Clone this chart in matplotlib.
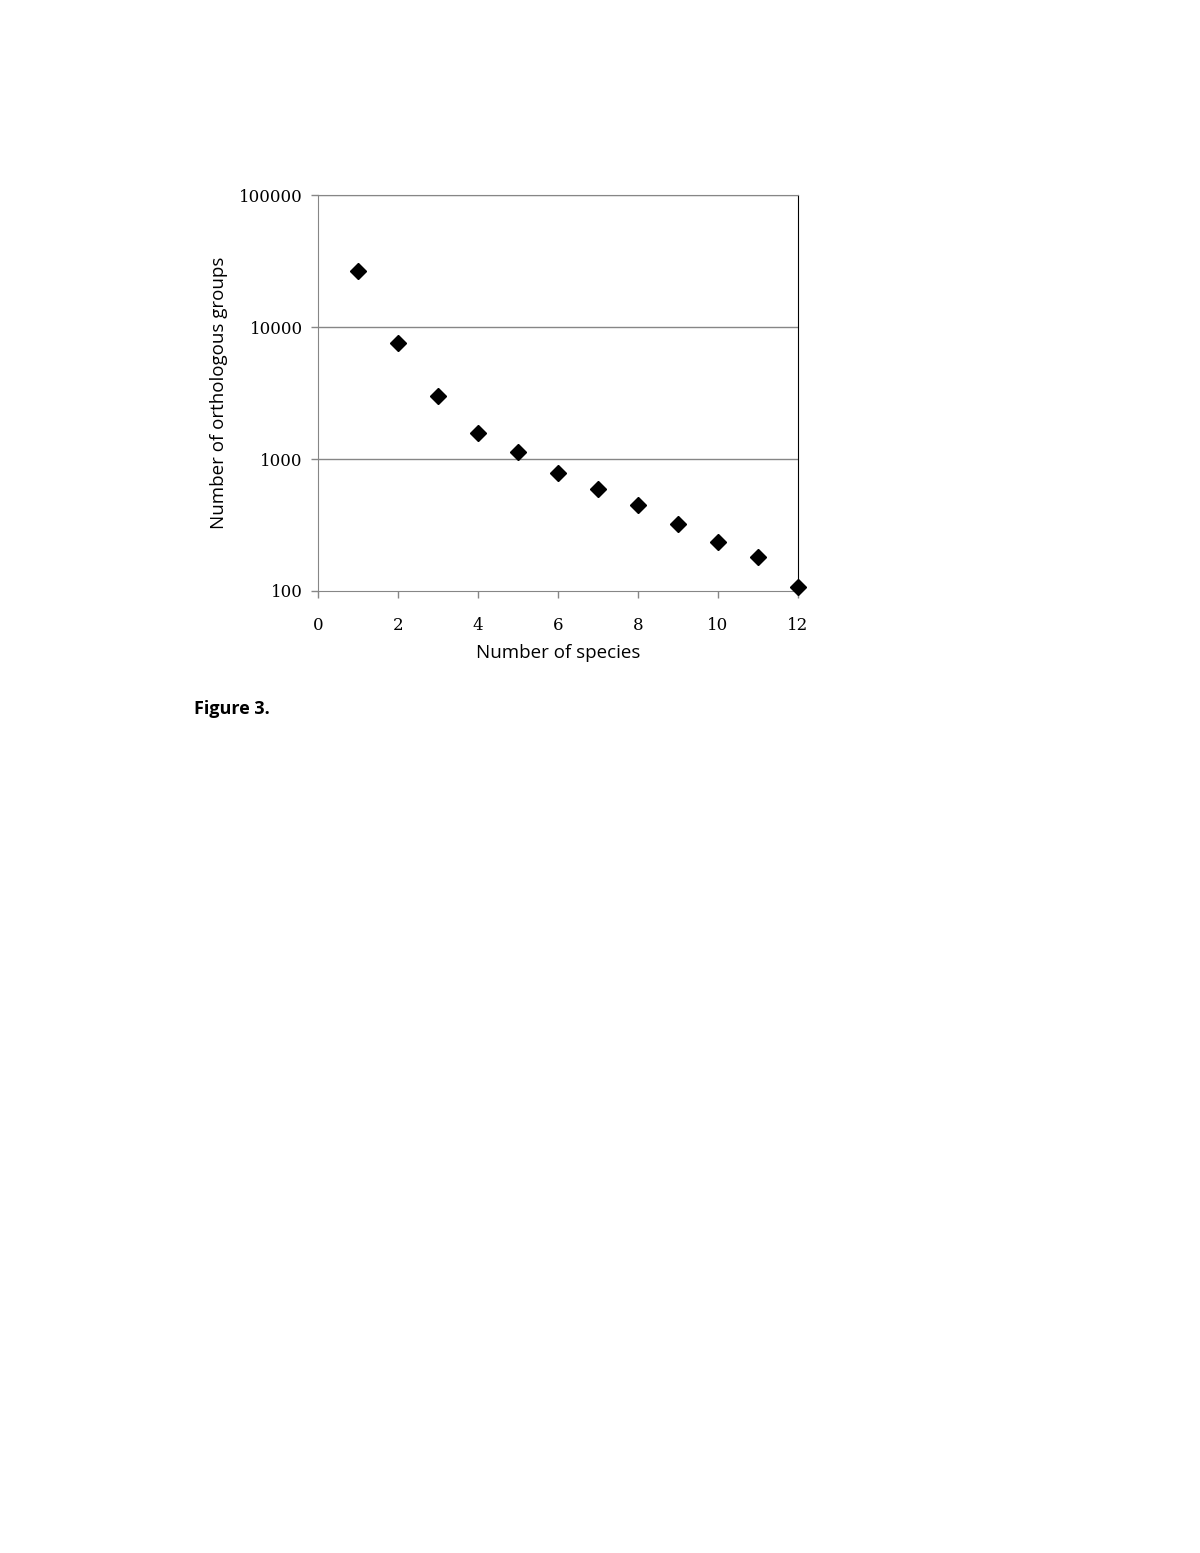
import matplotlib
matplotlib.use("Agg")
import matplotlib.pyplot as plt

species = [1, 2, 3, 4, 5, 6, 7, 8, 9, 10, 11, 12]
groups = [26500, 7570, 3000, 1575, 1130, 785, 593, 448, 322, 235, 181, 107]
xticks = [0, 2, 4, 6, 8, 10, 12]
yticks = [100, 1000, 10000, 100000]
ytick_labels = ["100", "1000", "10000", "100000"]

fig = plt.figure(figsize=(12, 15.53), dpi=100)
ax = fig.add_axes([0.265, 1 - 591 / 1553, 0.4, (591 - 195) / 1553])

ax.set_yscale("log")
ax.set_xlim(0, 12)
ax.set_ylim(100, 100000)
for y in [1000, 10000, 100000]:
    ax.axhline(y, color="#868686", lw=1.0, zorder=1)

ax.plot(species, groups, linestyle="none", marker="D", markersize=8,
        color="black", zorder=5, clip_on=False)

ax.set_xticks(xticks)
ax.set_xticklabels([str(t) for t in xticks], fontfamily="DejaVu Serif", fontsize=12)
ax.set_yticks(yticks)
ax.set_yticklabels(ytick_labels, fontfamily="DejaVu Serif", fontsize=12)
ax.yaxis.set_minor_locator(matplotlib.ticker.NullLocator())
ax.tick_params(axis="both", direction="out", length=5, color="#868686", width=1)
ax.tick_params(axis="x", pad=14)
ax.tick_params(axis="y", pad=6)

for s in ["left", "bottom", "top"]:
    ax.spines[s].set_color("#868686")
ax.spines["right"].set_color("black")

ax.set_xlabel("Number of species", fontfamily="Open Sans", fontsize=13.5, labelpad=7)
ax.set_ylabel("Number of orthologous groups", fontfamily="Open Sans", fontsize=13.5, labelpad=8)

fig.text(194 / 1200, 1 - 709 / 1553, "Figure 3.", fontfamily="Open Sans",
         fontweight="bold", fontsize=13, va="center", ha="left")

fig.savefig("out.png", dpi=100, facecolor="white")
